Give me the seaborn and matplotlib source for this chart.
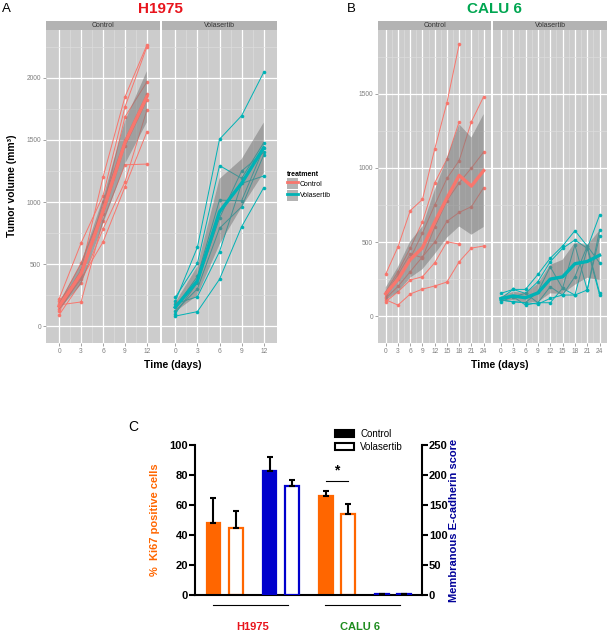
import numpy as np
import pandas as pd
import seaborn as sns
import matplotlib.pyplot as plt
from matplotlib.patches import Patch
from matplotlib.lines import Line2D

# ---- data -------------------------------------------------------------
# H1975 tumour volume (mm3), one list per mouse
h_days = [0, 3, 6, 9, 12]
h_control = [
    [160, 450, 1200, 1847, 2265],
    [220, 669, 1050, 1766, 2250],
    [180, 508, 950, 1685, 1968],
    [120, 400, 1000, 1500, 1871],
    [200, 420, 900, 1450, 1823],
    [90, 350, 782, 1161, 1742],
    [140, 380, 677, 1121, 1565],
    [170, 194, 850, 1300, 1306],
]
h_volasertib = [
    [200, 635, 1506, 1696, 2046],
    [230, 506, 1294, 1191, 1478],
    [150, 400, 1015, 1010, 1435],
    [120, 300, 788, 962, 1379],
    [180, 236, 600, 1150, 1210],
    [80, 116, 377, 801, 1116],
    [100, 350, 870, 1250, 1400],
]

# CALU 6 tumour volume (mm3), some mice stop early
c_days = [0, 3, 6, 9, 12, 15, 18, 21, 24]
c_control = [
    [284, 468, 712, 788, 1128, 1441, 1836],
    [164, 300, 457, 637, 900, 1060, 1313],
    [131, 250, 390, 560, 750, 930, 1050, 1313, 1482],
    [150, 280, 420, 394, 600, 780, 900, 1000, 1108],
    [120, 200, 300, 400, 500, 640, 700, 739, 867],
    [97, 164, 243, 266, 360, 502, 486],
    [110, 74, 149, 182, 203, 230, 367, 459, 473],
]
c_volasertib = [
    [153, 180, 180, 281, 390, 473, 577, 473, 158],
    [119, 131, 153, 232, 367, 457, 514, 457, 682],
    [108, 97, 90, 164, 333, 187, 480, 176, 581],
    [97, 131, 74, 90, 198, 142, 266, 473, 360],
    [108, 97, 90, 81, 119, 142, 142, 176, 541],
    [119, 180, 153, 90, 90, 187, 142, 457, 142],
]

# panel C: Ki67 (left axis) and E-cadherin (right axis)
bar_order = ["H1975 Ki67", "H1975 Ecad", "CALU6 Ki67", "CALU6 Ecad"]
treatments = ["Control", "Volasertib"]
ki67_groups = ["H1975 Ki67", "CALU6 Ki67"]
ki67_control = [48, 66]
ki67_control_sem = [17, 3.5]
ki67_volasertib = [45, 54]
ki67_volasertib_sem = [11, 7]
ecad_groups = ["H1975 Ecad", "CALU6 Ecad"]
ecad_control = [207, 2]
ecad_control_sem = [23, 0]
ecad_volasertib = [182, 2]
ecad_volasertib_sem = [9, 0]

# ---- style ------------------------------------------------------------
plt.rcParams["font.family"] = ["Liberation Sans", "DejaVu Sans"]
PANEL = "#CCCCCC"
STRIP = "#B3B3B3"
BAND = "#7A7A7A"
RED_LINE = "#F8766D"
TEAL_LINE = "#00B2B5"
ORANGE = "#FF6600"
BLUE = "#0000CC"
TICK_GRAY = "#7F7F7F"

W, H = 607, 632
fig = plt.figure(figsize=(W / 100, H / 100), dpi=100)


def px_axes(x0, y0, x1, y1):
    return fig.add_axes([x0 / W, 1 - y1 / H, (x1 - x0) / W, (y1 - y0) / H])


def to_long(days, mice):
    rows = []
    for i, vals in enumerate(mice):
        for d, v in zip(days, vals):
            rows.append({"mouse": i, "day": d, "volume": v})
    return pd.DataFrame(rows)


def facet(x0, x1, name, days, mice, color, xlim, ylim, xticks, yticks, show_y):
    strip = px_axes(x0, 20.5, x1, 30)
    strip.set_facecolor(STRIP)
    strip.set_xticks([])
    strip.set_yticks([])
    for s in strip.spines.values():
        s.set_visible(False)
    strip.text(0.5, 0.5, name, ha="center", va="center", fontsize=5, color="#333333")

    ax = px_axes(x0, 30, x1, 343)
    ax.set_facecolor(PANEL)
    df = to_long(days, mice)
    sns.lineplot(data=df, x="day", y="volume", units="mouse", estimator=None,
                 color=color, lw=0.7, marker="o", markersize=2.6,
                 markeredgewidth=0, ax=ax)
    n_coll = len(ax.collections)
    n_lines = len(ax.lines)
    sns.lineplot(data=df, x="day", y="volume", errorbar=("se", 1.8),
                 color=color, lw=2.4, ax=ax)
    for coll in ax.collections[n_coll:]:
        coll.set_facecolor(BAND)
        coll.set_alpha(0.55)
        coll.set_edgecolor("none")
        coll.set_zorder(2.5)
    for ln in ax.lines[n_lines:]:
        ln.set_zorder(3)

    ax.set_xlim(*xlim)
    ax.set_ylim(*ylim)
    ax.set_xticks(xticks)
    ax.set_yticks(yticks)
    ax.set_xticks([t + (xticks[1] - xticks[0]) / 2 for t in xticks[:-1]], minor=True)
    ax.set_yticks([t + (yticks[1] - yticks[0]) / 2 for t in yticks], minor=True)
    ax.grid(which="major", color="white", lw=0.9)
    ax.grid(which="minor", color="#DEDEDE", lw=0.45)
    ax.set_axisbelow(True)
    ax.tick_params(which="major", length=2, width=0.5, color=TICK_GRAY,
                   labelcolor=TICK_GRAY, labelsize=4.8, pad=1.5)
    ax.tick_params(which="minor", length=0)
    if not show_y:
        ax.tick_params(axis="y", length=0, labelleft=False)
    ax.set_xlabel("")
    ax.set_ylabel("")
    for s in ax.spines.values():
        s.set_visible(False)
    return ax


h_xt = [0, 3, 6, 9, 12]
h_yt = [0, 500, 1000, 1500, 2000]
facet(46, 160, "Control", h_days, h_control, RED_LINE, (-1.8, 13.8), (-137, 2387), h_xt, h_yt, True)
facet(162, 277, "Volasertib", h_days, h_volasertib, TEAL_LINE, (-1.8, 13.8), (-137, 2387), h_xt, h_yt, False)

c_xt = [0, 3, 6, 9, 12, 15, 18, 21, 24]
c_yt = [0, 500, 1000, 1500]
facet(378, 491, "Control", c_days, c_control, RED_LINE, (-1.9, 25.8), (-182, 1932), c_xt, c_yt, True)
facet(493, 607, "Volasertib", c_days, c_volasertib, TEAL_LINE, (-1.9, 25.8), (-182, 1932), c_xt, c_yt, False)

# panel labels / titles
fig.text(6 / W, 1 - 9 / H, "A", fontsize=9.5, ha="center", va="center")
fig.text(351 / W, 1 - 9 / H, "B", fontsize=9.5, ha="center", va="center")
fig.text(160 / W, 1 - 9 / H, "H1975", fontsize=11, fontweight="bold", color="#E8141C", ha="center", va="center")
fig.text(494 / W, 1 - 9 / H, "CALU 6", fontsize=11, fontweight="bold", color="#00A651", ha="center", va="center")
fig.text(12 / W, 1 - 186 / H, "Tumor volume (mm³)", fontsize=7.5, fontweight="bold", rotation=90, ha="center", va="center")
fig.text(173 / W, 1 - 365 / H, "Time (days)", fontsize=7.5, fontweight="bold", ha="center", va="center")
fig.text(500 / W, 1 - 365 / H, "Time (days)", fontsize=7.5, fontweight="bold", ha="center", va="center")

key_handles = [
    (Patch(fc=STRIP, ec="none"), Line2D([], [], color=RED_LINE, lw=2)),
    (Patch(fc=STRIP, ec="none"), Line2D([], [], color=TEAL_LINE, lw=2)),
]
leg = fig.legend(key_handles, treatments, title="treatment", loc="upper left",
                 bbox_to_anchor=(284 / W, 1 - 168 / H), frameon=False, fontsize=5,
                 title_fontsize=5, handlelength=1.6, handleheight=2.0,
                 handletextpad=0.3, labelspacing=0.1, borderaxespad=0,
                 alignment="left")
leg.get_title().set_fontweight("bold")

# ---- panel C ----------------------------------------------------------
ki_df = pd.DataFrame({
    "group": ki67_groups * 2,
    "treatment": [treatments[0]] * 2 + [treatments[1]] * 2,
    "value": ki67_control + ki67_volasertib,
})
ec_df = pd.DataFrame({
    "group": ecad_groups * 2,
    "treatment": [treatments[0]] * 2 + [treatments[1]] * 2,
    "value": ecad_control + ecad_volasertib,
})

axc = px_axes(195, 445, 422, 595)
axe = axc.twinx()


def bars(ax, df, color, ctrl_sem, vola_sem):
    sns.barplot(data=df, x="group", y="value", hue="treatment", order=bar_order,
                hue_order=treatments, palette=[color, color], errorbar=None,
                gap=0.38, saturation=1, legend=False, ax=ax)
    patches = sorted([p for p in ax.patches if p.get_width() > 0], key=lambda p: p.get_x())
    sems = [s for pair in zip(ctrl_sem, vola_sem) for s in pair]
    for i, p in enumerate(patches):
        p.set_edgecolor(color)
        p.set_linewidth(1.6)
        if i % 2:
            p.set_facecolor("white")
    xs = [p.get_x() + p.get_width() / 2 for p in patches]
    ys = [p.get_height() for p in patches]
    ax.errorbar(xs, ys, yerr=[np.zeros(len(sems)), sems], fmt="none", ecolor="black",
                elinewidth=1.5, capsize=2.2, capthick=1.5, zorder=3)
    return xs


ki_x = bars(axc, ki_df, ORANGE, ki67_control_sem, ki67_volasertib_sem)
bars(axe, ec_df, BLUE, ecad_control_sem, ecad_volasertib_sem)

for ax in (axc, axe):
    ax.set_xlim(-0.53, 3.52)
    ax.set_xticks([])
    ax.set_xlabel("")
    ax.spines["top"].set_visible(False)
axc.set_ylim(0, 100)
axe.set_ylim(0, 250)
axc.set_yticks([0, 20, 40, 60, 80, 100])
axe.set_yticks([0, 50, 100, 150, 200, 250])
for s in ["left", "bottom"]:
    axc.spines[s].set_linewidth(1.5)
axc.spines["right"].set_visible(False)
axe.spines["right"].set_linewidth(1.5)
axe.spines["left"].set_visible(False)
axe.spines["bottom"].set_visible(False)
for ax in (axc, axe):
    ax.tick_params(axis="y", direction="out", length=4, width=1.5, labelsize=8, pad=1)
    for lbl in ax.get_yticklabels():
        lbl.set_fontweight("bold")

axc.set_ylabel("%  Ki67 positive cells", color=ORANGE, fontweight="bold", fontsize=8)
axc.yaxis.set_label_coords(-0.155, 0.5)
axe.set_ylabel("Membranous E-cadherin score", color="#000099", fontweight="bold", fontsize=8,
               rotation=90, va="center")
axe.yaxis.set_label_coords(1.14, 0.5)

# significance mark over CALU 6 Ki67 pair
axc.plot([ki_x[2], ki_x[3]], [76, 76], color="black", lw=0.8)
axc.text((ki_x[2] + ki_x[3]) / 2, 83, "*", ha="center", va="center", fontsize=10, fontweight="bold")

# cell line brackets under the axis
axc.plot([-0.21, 1.13], [-6.7, -6.7], color="black", lw=0.8, clip_on=False)
axc.plot([1.79, 3.13], [-6.7, -6.7], color="black", lw=0.8, clip_on=False)
axc.text(0.5, -21, "H1975", color="#E8141C", fontweight="bold", fontsize=8, ha="center", va="center", clip_on=False)
axc.text(2.42, -21, "CALU 6", color="#1E8C1E", fontweight="bold", fontsize=8, ha="center", va="center", clip_on=False)

fig.text(133 / W, 1 - 427 / H, "C", fontsize=10, ha="center", va="center")
fig.legend([Patch(fc="black", ec="black", lw=1.5), Patch(fc="white", ec="black", lw=1.5)],
           treatments, loc="upper left", bbox_to_anchor=(331 / W, 1 - 425 / H),
           frameon=False, fontsize=7, handlelength=2.0, handleheight=0.65,
           labelspacing=0.3, handletextpad=0.6, borderaxespad=0)

fig.savefig("out.png", dpi=100)
